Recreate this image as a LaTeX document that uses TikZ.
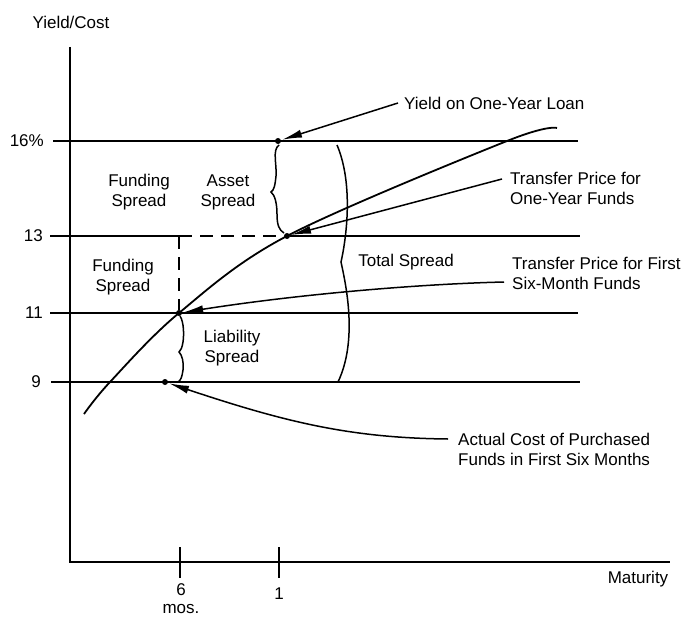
\documentclass[tikz,border=0pt]{standalone}
\usepackage{fontspec}
\setmainfont{Liberation Sans}
\usetikzlibrary{arrows.meta,calc}
\begin{document}
\begin{tikzpicture}[x=1pt,y=-1pt,
 lbl/.style={font=\fontsize{17}{20}\selectfont, inner sep=0pt, align=center},
 note/.style={font=\fontsize{17}{20}\selectfont, inner sep=0pt, align=left, anchor=west},
 ax/.style={line width=1.8pt},
 gridline/.style={line width=1.7pt},
 dashv/.style={line width=1.7pt, dash pattern=on 13pt off 8pt},
 dot/.style={circle, fill=black, inner sep=0pt, minimum size=6pt},
 pointer/.style={line width=1.5pt, shorten >=1pt, -{Latex[length=20pt,width=8pt]}},
 brc/.style={line width=1.5pt},
 curve/.style={line width=1.8pt},
]
\useasboundingbox (0,0) rectangle (687,620);
% points on the curve
\node[dot] (d16) at (278,141) {};
\node[dot] (d13) at (287,236) {};
\node[dot] (d11) at (179,313) {};
\node[dot] (d9)  at (165,382) {};
% axes
\coordinate (ytop) at (70,47);
\coordinate (O) at (70,562);
\coordinate (xend) at (670,562);
\draw[ax] (ytop) -- (O) -- (xend);
\node[lbl] (ylab) at (71,22) {Yield/Cost};
\node[lbl] (xlab) at (638,579) {Maturity};
% ticks
\coordinate (t6a) at (180,547); \coordinate (t6b) at (180,578);
\coordinate (t1a) at (279,547); \coordinate (t1b) at (279,578);
\draw[ax] (t6a) -- (t6b);
\draw[ax] (t1a) -- (t1b);
\node[lbl, font=\fontsize{17}{18}\selectfont] (six) at (181,599) {6\\mos.};
\node[lbl] (one) at (279,594) {1};
% horizontal levels
\coordinate (l16) at (53,141); \coordinate (r16) at (578,141);
\coordinate (l13) at (50,236); \coordinate (c13) at (179,236); \coordinate (r13) at (580,236);
\coordinate (l11) at (50,313); \coordinate (r11) at (578,313);
\coordinate (l9) at (51,382); \coordinate (r9) at (580,382);
\draw[gridline] (l16) -- (r16);
\draw[gridline] (l13) -- (c13);
\draw[dashv] (c13) -- (d13);
\draw[gridline] (d13) -- (r13);
\draw[dashv] (c13) -- (d11);
\draw[gridline] (l11) -- (r11);
\draw[gridline] (l9) -- (r9);
\node[lbl, anchor=east] (v16) at (44,141) {16\%};
\node[lbl, anchor=east] (v13) at (43,236) {13};
\node[lbl, anchor=east] (v11) at (43,313) {11};
\node[lbl, anchor=east] (v9) at (41,382) {9};
% yield curve
\draw[curve] plot[smooth, tension=0.55] coordinates {(84,414) (110,382) (179,313) (287,236) (507,141) (557,128)};
% spread labels
\node[lbl] (fs1) at (139,192) {Funding\\Spread};
\node[lbl] (as) at (228,192) {Asset\\Spread};
\node[lbl] (fs2) at (123,277) {Funding\\Spread};
\node[lbl] (ls) at (232,348) {Liability\\Spread};
\node[lbl] (ts) at (406,262) {Total Spread};
% braces
\draw[brc] (279,145) .. controls (272,150) and (277,165) .. (276,176)
  .. controls (275,186) and (274,190) .. (271,192)
  .. controls (275,195) and (277,204) .. (277,214)
  .. controls (277,225) and (279,230) .. (284,233);
\draw[brc] (180,316) .. controls (184,322) and (184,335) .. (183,342)
  .. controls (182,348) and (181,350) .. (179,352)
  .. controls (182,355) and (184,362) .. (183,370)
  .. controls (182,377) and (181,380) .. (178,382);
\draw[brc] (337,145) .. controls (354,185) and (346,240) .. (341,262)
  .. controls (346,285) and (358,340) .. (338,382);
% annotations
\node[note] (yl) at (404,103) {Yield on One-Year Loan};
\node[note] (tp1) at (510,188) {Transfer Price for\\One-Year Funds};
\node[note] (tp6) at (512,273) {Transfer Price for First\\Six-Month Funds};
\node[note] (ac) at (458,449) {Actual Cost of Purchased\\Funds in First Six Months};
\draw[pointer] ([xshift=-6pt]yl.west) -- (d16);
\draw[pointer] ([xshift=-8pt,yshift=9pt]tp1.west) -- (d13);
\draw[pointer] ([xshift=-8pt,yshift=-9pt]tp6.west) .. controls (420,284) and (300,294) .. (d11);
\draw[pointer] ([xshift=-10pt,yshift=10pt]ac.west) .. controls (350,438) and (285,422) .. (d9);
\end{tikzpicture}
\end{document}
